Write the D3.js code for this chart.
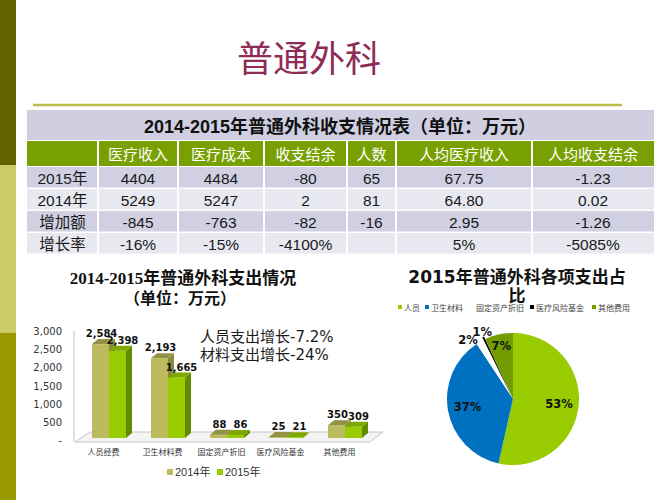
<!DOCTYPE html>
<html><head><meta charset="utf-8">
<script src="https://cdn.jsdelivr.net/npm/d3@7/dist/d3.min.js"></script>
<style>body{margin:0;background:#fff} svg{display:block}</style>
</head><body><svg id="c" width="667" height="500"></svg>
<script>
// ---------------- data ----------------
const slideTitle = "普通外科";
const tableTitle = "2014-2015年普通外科收支情况表（单位：万元）";
const tableColumns = ["医疗收入","医疗成本","收支结余","人数","人均医疗收入","人均收支结余"];
const tableRowLabels = ["2015年","2014年","增加额","增长率"];
const row2015 = ["4404","4484","-80","65","67.75","-1.23"];
const row2014 = ["5249","5247","2","81","64.80","0.02"];
const rowDiff = ["-845","-763","-82","-16","2.95","-1.26"];
const rowRate = ["-16%","-15%","-4100%","","5%","-5085%"];

const barTitleLines = ["2014-2015年普通外科支出情况","（单位：万元）"];
const barCategories = ["人员经费","卫生材料费","固定资产折旧","医疗风险基金","其他费用"];
const barSeries = ["2014年","2015年"];
const values2014 = [2584,2193,88,25,350];
const values2015 = [2398,1665,86,21,309];
const yTicks = [0,500,1000,1500,2000,2500,3000];
const barNotes = ["人员支出增长-7.2%","材料支出增长-24%"];

const pieTitleLines = ["2015年普通外科各项支出占","比"];
const pieCategories = ["人员","卫生材料","固定资产折旧","医疗风险基金","其他费用"];
const pieValues = [2398,1665,86,21,309];
const pieLabels = ["53%","37%","2%","1%","7%"];

// ---------------- drawing ----------------
const svg = d3.select("#c");
const SANS = "'Liberation Sans', Arial, 'Noto Sans CJK SC', sans-serif";
const VERD = "'DejaVu Sans', Verdana, 'Noto Sans CJK SC', sans-serif";
const SERIF = "'Liberation Serif', 'Times New Roman', 'Noto Sans CJK SC', serif";

// left decorative band
const bandStops = [[0,165,"#626200"],[165,333,"#cccc66"],[333,500,"#999900"]];
svg.selectAll("rect.band").data(bandStops).join("rect")
  .attr("x",0).attr("width",16).attr("y",d=>d[0]).attr("height",d=>d[1]-d[0]).attr("fill",d=>d[2]);

// title
svg.append("text").attr("x",309).attr("y",72).attr("text-anchor","middle")
  .attr("font-family",SANS).attr("font-size",36).attr("fill","#8e2c55").text(slideTitle);
svg.append("line").attr("x1",33).attr("x2",622).attr("y1",105).attr("y2",105)
  .attr("stroke","#bcbc4c").attr("stroke-width",2.5);

// ---------------- table ----------------
const colEdges = [27,98,178,264,347,396,532,654];
const tRows = [row2015,row2014,rowDiff,rowRate];
const rowTop = 167, rowH = 22;
const tg = svg.append("g");
tg.append("rect").attr("x",27).attr("y",110).attr("width",627).attr("height",30).attr("fill","#cfcfe1");
tg.append("text").attr("x",340).attr("y",133).attr("text-anchor","middle")
  .attr("font-family",SANS).attr("font-weight","bold").attr("font-size",18).attr("fill","#111").text(tableTitle);
for (let c=0;c<7;c++){
  tg.append("rect").attr("x",colEdges[c]+(c?1:0)).attr("y",141)
    .attr("width",colEdges[c+1]-colEdges[c]-(c?1:0)-(c<6?1:0)).attr("height",25).attr("fill","#77a000");
  if (c>0) tg.append("text").attr("x",(colEdges[c]+colEdges[c+1])/2).attr("y",160).attr("text-anchor","middle")
    .attr("font-family",SANS).attr("font-size",15).attr("fill","#fff").text(tableColumns[c-1]);
}
tRows.forEach((row,r)=>{
  const y0 = rowTop + r*rowH;
  const fill = r%2===0 ? "#d0d0e2" : "#e8e8f0";
  for (let c=0;c<7;c++){
    tg.append("rect").attr("x",colEdges[c]+(c?1:0)).attr("y",y0)
      .attr("width",colEdges[c+1]-colEdges[c]-(c?1:0)-(c<6?1:0)).attr("height",rowH-1.5).attr("fill",fill);
    const txt = c===0 ? tableRowLabels[r] : row[c-1];
    tg.append("text").attr("x",(colEdges[c]+colEdges[c+1])/2).attr("y",y0+16.5).attr("text-anchor","middle")
      .attr("font-family",SANS).attr("font-size",15.5).attr("fill","#1a1a1a").text(txt);
  }
});

// ---------------- bar chart ----------------
const bg = svg.append("g");
barTitleLines.forEach((t,i)=>{
  bg.append("text").attr("x",i?180:183).attr("y",i?304:284).attr("text-anchor","middle")
    .attr("font-family",SERIF).attr("font-weight","bold").attr("font-size",i?16:17).attr("fill","#111").text(t);
});
const xb = d3.scaleBand().domain(barCategories).range([75,370]);
const yb = d3.scaleLinear().domain([0,3000]).range([440,331]);
const base = yb(0);
const fx0 = xb.range()[0], fx1 = xb.range()[1];
bg.append("polygon")
  .attr("points",[[fx0,base+2],[fx1,base+2],[fx1+13,base-8],[fx0+15,base-8]].map(p=>p.join(",")).join(" "))
  .attr("fill","#f3f3f3").attr("stroke","#c8c8c8").attr("stroke-width",1);
bg.append("line").attr("x1",74).attr("x2",74).attr("y1",yb(3000)).attr("y2",base+2)
  .attr("stroke","#c4c4c4").attr("stroke-width",1);
bg.selectAll("text.yt").data(yTicks).join("text").attr("class","yt")
  .attr("x",62).attr("y",d=>yb(d)+4).attr("text-anchor","end")
  .attr("font-family",VERD).attr("font-size",10).attr("fill","#333")
  .text(d=>d===0?"-":d3.format(",")(d));
const series = [values2014, values2015];
const pal = [
  {front:"#bbbb5e", top:"#929244", side:"#8a8a3c"},
  {front:"#99cc00", top:"#7eaa00", side:"#5f8c00"}
];
const bw = 17, ddx = 6, ddy = 5, bBot = base-2;
barCategories.forEach((cat,i)=>{
  series.forEach((vals,s)=>{
    const v = vals[i];
    const x0 = xb(cat) + xb.bandwidth()/2 - 12.5 + s*bw;
    const top = yb(v) - 2;
    const c = pal[s];
    bg.append("polygon").attr("fill",c.side)
      .attr("points",[[x0+bw,top],[x0+bw+ddx,top-ddy],[x0+bw+ddx,bBot-ddy],[x0+bw,bBot]].map(p=>p.join(",")).join(" "));
    bg.append("rect").attr("x",x0).attr("y",top).attr("width",bw).attr("height",Math.max(0,bBot-top)).attr("fill",c.front);
    bg.append("polygon").attr("fill",c.top)
      .attr("points",[[x0,top],[x0+ddx,top-ddy],[x0+bw+ddx,top-ddy],[x0+bw,top]].map(p=>p.join(",")).join(" "));
  });
});
barCategories.forEach((cat,i)=>{
  series.forEach((vals,s)=>{
    const v = vals[i];
    const x0 = xb(cat) + xb.bandwidth()/2 - 12.5 + s*bw;
    bg.append("text").attr("x",x0+bw/2+(s?5:1)).attr("y",yb(v)-9).attr("text-anchor","middle")
      .attr("font-family",VERD).attr("font-weight","bold").attr("font-size",10).attr("fill","#111")
      .text(d3.format(",")(v));
  });
});
bg.selectAll("text.cat").data(barCategories).join("text").attr("class","cat")
  .attr("x",d=>xb(d)+xb.bandwidth()/2-1).attr("y",455).attr("text-anchor","middle")
  .attr("font-family",VERD).attr("font-size",8).attr("fill","#333").text(d=>d);
barNotes.forEach((t,i)=>{
  bg.append("text").attr("x",200).attr("y",342+i*18).attr("font-family",VERD).attr("font-size",15)
    .attr("fill","#1a1a1a").text(t);
});
barSeries.forEach((t,i)=>{
  const lx = 167 + i*50;
  bg.append("rect").attr("x",lx).attr("y",469).attr("width",6).attr("height",6).attr("fill",pal[i].front);
  bg.append("text").attr("x",lx+8).attr("y",476).attr("font-family",SANS).attr("font-size",11)
    .attr("fill","#333").text(t);
});

// ---------------- pie chart ----------------
const pg = svg.append("g");
pieTitleLines.forEach((t,i)=>{
  pg.append("text").attr("x",517).attr("y",i?302:283).attr("text-anchor","middle")
    .attr("font-family",VERD).attr("font-weight","bold").attr("font-size",17).attr("fill","#111").text(t);
});
const pieColors = ["#99cc00","#0070c0","#ffffff","#000000","#739c00"];
const legX = [398,425,470,530,592];
pieCategories.forEach((t,i)=>{
  pg.append("rect").attr("x",legX[i]).attr("y",305).attr("width",4).attr("height",4).attr("fill",pieColors[i]);
  pg.append("text").attr("x",legX[i]+6).attr("y",310.5).attr("font-family",VERD).attr("font-size",8)
    .attr("fill","#444").text(t);
});
const cx = 513, cy = 399, R = 66;
const pie = d3.pie().sort(null).value(d=>d)(pieValues);
const arc = d3.arc().innerRadius(0).outerRadius(R);
const pc = pg.append("g").attr("transform",`translate(${cx},${cy})`);
const total = d3.sum(pieValues);
pie.forEach((p,i)=>{
  const mid = (p.startAngle+p.endAngle)/2;
  const ex = pieValues[i]/total < 0.03 ? 3 : 0;
  pc.append("path").attr("d",arc(p)).attr("fill",pieColors[i])
    .attr("transform",`translate(${Math.sin(mid)*ex},${-Math.cos(mid)*ex})`);
});
pie.forEach((p,i)=>{
  let mid = (p.startAngle+p.endAngle)/2;
  const frac = pieValues[i]/total;
  let r;
  if (frac < 0.03) { r = R*1.12; mid += (i===2 ? -0.13 : 0.02); }
  else if (frac < 0.1) r = R*0.82;
  else r = R*0.7;
  pc.append("text").attr("x",Math.sin(mid)*r).attr("y",-Math.cos(mid)*r)
    .attr("text-anchor","middle").attr("dominant-baseline","central")
    .attr("font-family",VERD).attr("font-weight","bold").attr("font-size",11.5).attr("fill","#111")
    .text(pieLabels[i]);
});
</script></body></html>
